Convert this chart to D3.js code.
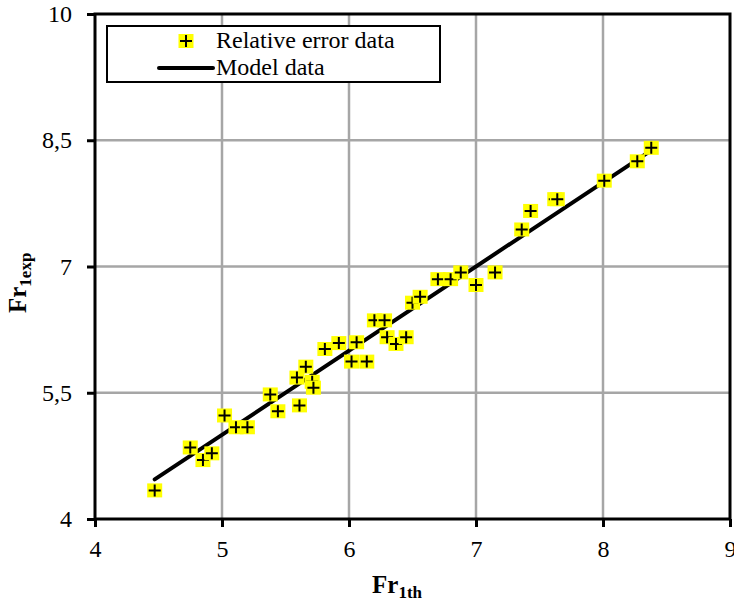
<!DOCTYPE html>
<html>
<head>
<meta charset="utf-8">
<script src="https://cdn.jsdelivr.net/npm/d3@7"></script>
<style>
  html, body { margin: 0; padding: 0; background: #fff; }
  svg { display: block; font-family: "Liberation Serif", "Times New Roman", serif; }
</style>
</head>
<body>
<svg id="chart" width="734" height="605"></svg>
<script>
// experimental points: Fr1th (x) vs Fr1exp (y)
const frTh  = [4.47, 4.75, 4.85, 4.92, 5.02, 5.11, 5.20, 5.38, 5.44, 5.61,
               5.59, 5.66, 5.71, 5.72, 5.81, 5.92, 6.06, 6.02, 6.14, 6.20,
               6.28, 6.30, 6.37, 6.45, 6.50, 6.56, 6.70, 6.80, 6.88, 7.00,
               7.15, 7.36, 7.43, 7.62, 7.64, 8.01, 8.27, 8.38];
const frExp = [4.34, 4.85, 4.70, 4.78, 5.23, 5.09, 5.09, 5.48, 5.28, 5.35,
               5.68, 5.81, 5.63, 5.56, 6.02, 6.09, 6.10, 5.87, 5.87, 6.36,
               6.36, 6.16, 6.08, 6.16, 6.57, 6.64, 6.85, 6.85, 6.93, 6.78,
               6.93, 7.44, 7.66, 7.80, 7.80, 8.02, 8.25, 8.41];

// model line
const modelX = [4.47, 8.41];
const modelY = [4.47, 8.41];

const xTicks = [4, 5, 6, 7, 8, 9];
const yTicks = [4, 5.5, 7, 8.5, 10];
const legendLabels = ["Relative error data", "Model data"];

const svg = d3.select("#chart");
const pLeft = 95, pRight = 730, pTop = 14, pBottom = 519;
const serif = "Liberation Serif, Times New Roman, serif";

const x = d3.scaleLinear().domain([4, 9]).range([pLeft, pRight]);
const y = d3.scaleLinear().domain([4, 10]).range([pBottom, pTop]);
const fmt = d => String(d).replace(".", ",");

// grid
const grid = svg.append("g");
grid.selectAll("line.vg")
  .data(xTicks.slice(1, -1))
  .enter().append("line")
  .attr("x1", d => x(d)).attr("x2", d => x(d))
  .attr("y1", pTop).attr("y2", pBottom)
  .attr("stroke", "#a6a6a6").attr("stroke-width", 2.5);
grid.selectAll("line.hg")
  .data(yTicks.slice(1, -1))
  .enter().append("line")
  .attr("x1", pLeft).attr("x2", pRight)
  .attr("y1", d => y(d)).attr("y2", d => y(d))
  .attr("stroke", "#a6a6a6").attr("stroke-width", 2.5);

// frame
svg.append("rect")
  .attr("x", pLeft).attr("y", pTop)
  .attr("width", pRight - pLeft).attr("height", pBottom - pTop)
  .attr("fill", "none").attr("stroke", "#000").attr("stroke-width", 3);

// axes
const xAxis = svg.append("g")
  .attr("transform", `translate(0,${pBottom})`)
  .call(d3.axisBottom(x).tickValues(xTicks).tickSize(8).tickPadding(13).tickFormat(fmt));
const yAxis = svg.append("g")
  .attr("transform", `translate(${pLeft},0)`)
  .call(d3.axisLeft(y).tickValues(yTicks).tickSize(8).tickPadding(15).tickFormat(fmt));

[xAxis, yAxis].forEach(g => {
  g.attr("font-family", serif).attr("font-size", 24);
  g.select(".domain").remove();
  g.selectAll(".tick line").attr("stroke", "#000").attr("stroke-width", 3);
  g.selectAll(".tick text").attr("fill", "#000");
});

// model line
const line = d3.line().x(d => x(d[0])).y(d => y(d[1]));
svg.append("path")
  .datum(d3.zip(modelX, modelY))
  .attr("d", line)
  .attr("fill", "none")
  .attr("stroke", "#000")
  .attr("stroke-width", 4)
  .attr("stroke-linecap", "round");

// markers
function drawMarker(g) {
  g.append("rect")
    .attr("x", -7.5).attr("y", -7).attr("width", 15).attr("height", 14)
    .attr("fill", "#ffff00");
  g.append("path")
    .attr("d", "M-6,0H6M0,-6V6")
    .attr("stroke", "#000").attr("stroke-width", 2);
}

svg.append("g").selectAll("g.pt")
  .data(d3.zip(frTh, frExp))
  .enter().append("g")
  .attr("class", "pt")
  .attr("transform", d => `translate(${x(d[0])},${y(d[1])})`)
  .each(function() { drawMarker(d3.select(this)); });

// legend
const lg = svg.append("g");
lg.append("rect")
  .attr("x", 107).attr("y", 26).attr("width", 333).attr("height", 56)
  .attr("fill", "#fff").attr("stroke", "#000").attr("stroke-width", 2);
drawMarker(lg.append("g").attr("transform", "translate(186,41)"));
lg.append("line")
  .attr("x1", 159).attr("x2", 213).attr("y1", 68).attr("y2", 68)
  .attr("stroke", "#000").attr("stroke-width", 4).attr("stroke-linecap", "round");
lg.selectAll("text")
  .data(legendLabels)
  .enter().append("text")
  .attr("x", 216)
  .attr("y", (d, i) => 48 + i * 27)
  .attr("font-family", serif)
  .attr("font-size", 24)
  .text(d => d);

// axis titles
const xt = svg.append("text")
  .attr("x", 372).attr("y", 593)
  .attr("font-family", serif)
  .attr("font-weight", "bold").attr("font-size", 25);
xt.append("tspan").text("Fr");
xt.append("tspan").attr("dy", 5).attr("font-size", 17).text("1th");

const yt = svg.append("text")
  .attr("transform", "translate(26,313) rotate(-90)")
  .attr("font-family", serif)
  .attr("font-weight", "bold").attr("font-size", 25);
yt.append("tspan").text("Fr");
yt.append("tspan").attr("dy", 5).attr("font-size", 17).text("1exp");
</script>
</body>
</html>
